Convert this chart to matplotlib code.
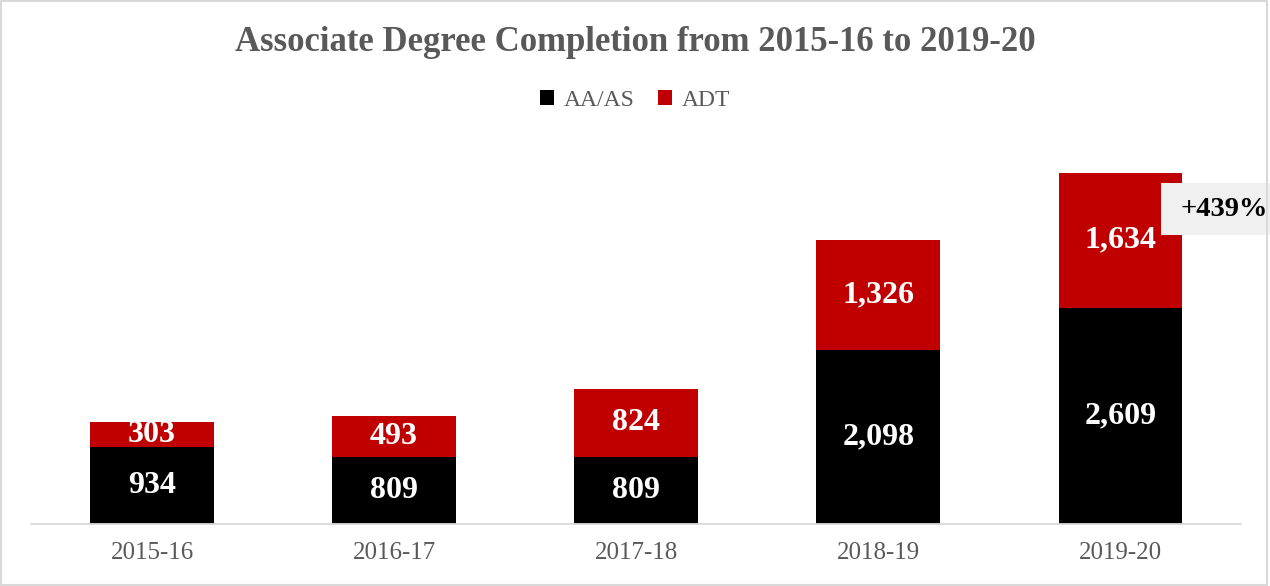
import matplotlib.pyplot as plt
from matplotlib.patches import Rectangle

# data
years = ["2015-16", "2016-17", "2017-18", "2018-19", "2019-20"]
aa_as = [934, 809, 809, 2098, 2609]
adt = [303, 493, 824, 1326, 1634]
growth_label = "+439%"

plt.rcParams['font.family'] = ['Liberation Serif', 'DejaVu Serif']

fig = plt.figure(figsize=(12.7, 5.86), dpi=100)
ax = fig.add_axes([0.0244, 0.1058, 0.953, 0.636])

x = range(len(years))
b1 = ax.bar(x, aa_as, width=0.51, color="#000000", label="AA/AS")
b2 = ax.bar(x, adt, width=0.51, bottom=aa_as, color="#C00000", label="ADT")

# value labels in the middle of each segment
for i in x:
    ax.text(i, aa_as[i] / 2, f"{aa_as[i]:,}", ha="center", va="center",
            color="white", fontsize=23, fontweight="bold")
    ax.text(i, aa_as[i] + adt[i] / 2, f"{adt[i]:,}", ha="center", va="center",
            color="white", fontsize=23, fontweight="bold")

ax.set_xlim(-0.5, 4.5)
ax.set_ylim(0, 4500)
ax.set_xticks(list(x))
ax.set_xticklabels(years, fontsize=18, color="#595959")
ax.tick_params(axis="x", length=0, pad=13)
ax.set_yticks([])
for s in ["top", "right", "left"]:
    ax.spines[s].set_visible(False)
ax.spines["bottom"].set_color("#d9d9d9")
ax.spines["bottom"].set_linewidth(1.3)

fig.text(0.5, 0.928, "Associate Degree Completion from 2015-16 to 2019-20",
         ha="center", va="center", fontsize=25, fontweight="bold", color="#595959")

fig.legend(handles=[b1, b2], loc="center", bbox_to_anchor=(0.5, 0.828), ncol=2,
           frameon=False, fontsize=17, handlelength=0.6, handleheight=0.6,
           handletextpad=0.4, columnspacing=1.0, labelcolor="#595959")

# growth callout
fig.patches.append(Rectangle((1161 / 1270, 1 - 235 / 586), 120 / 1270, 52 / 586,
                             transform=fig.transFigure, facecolor="#f0f0f0",
                             edgecolor="none"))
fig.text(1180 / 1270, 1 - 209 / 586, growth_label, ha="left", va="center",
         fontsize=20.5, fontweight="bold", color="#000000")

# outer border
fig.patches.append(Rectangle((0.001, 0.002), 0.997, 0.996, transform=fig.transFigure,
                             facecolor="none", edgecolor="#d9d9d9", linewidth=1.5))

fig.savefig("out.png", dpi=100)
